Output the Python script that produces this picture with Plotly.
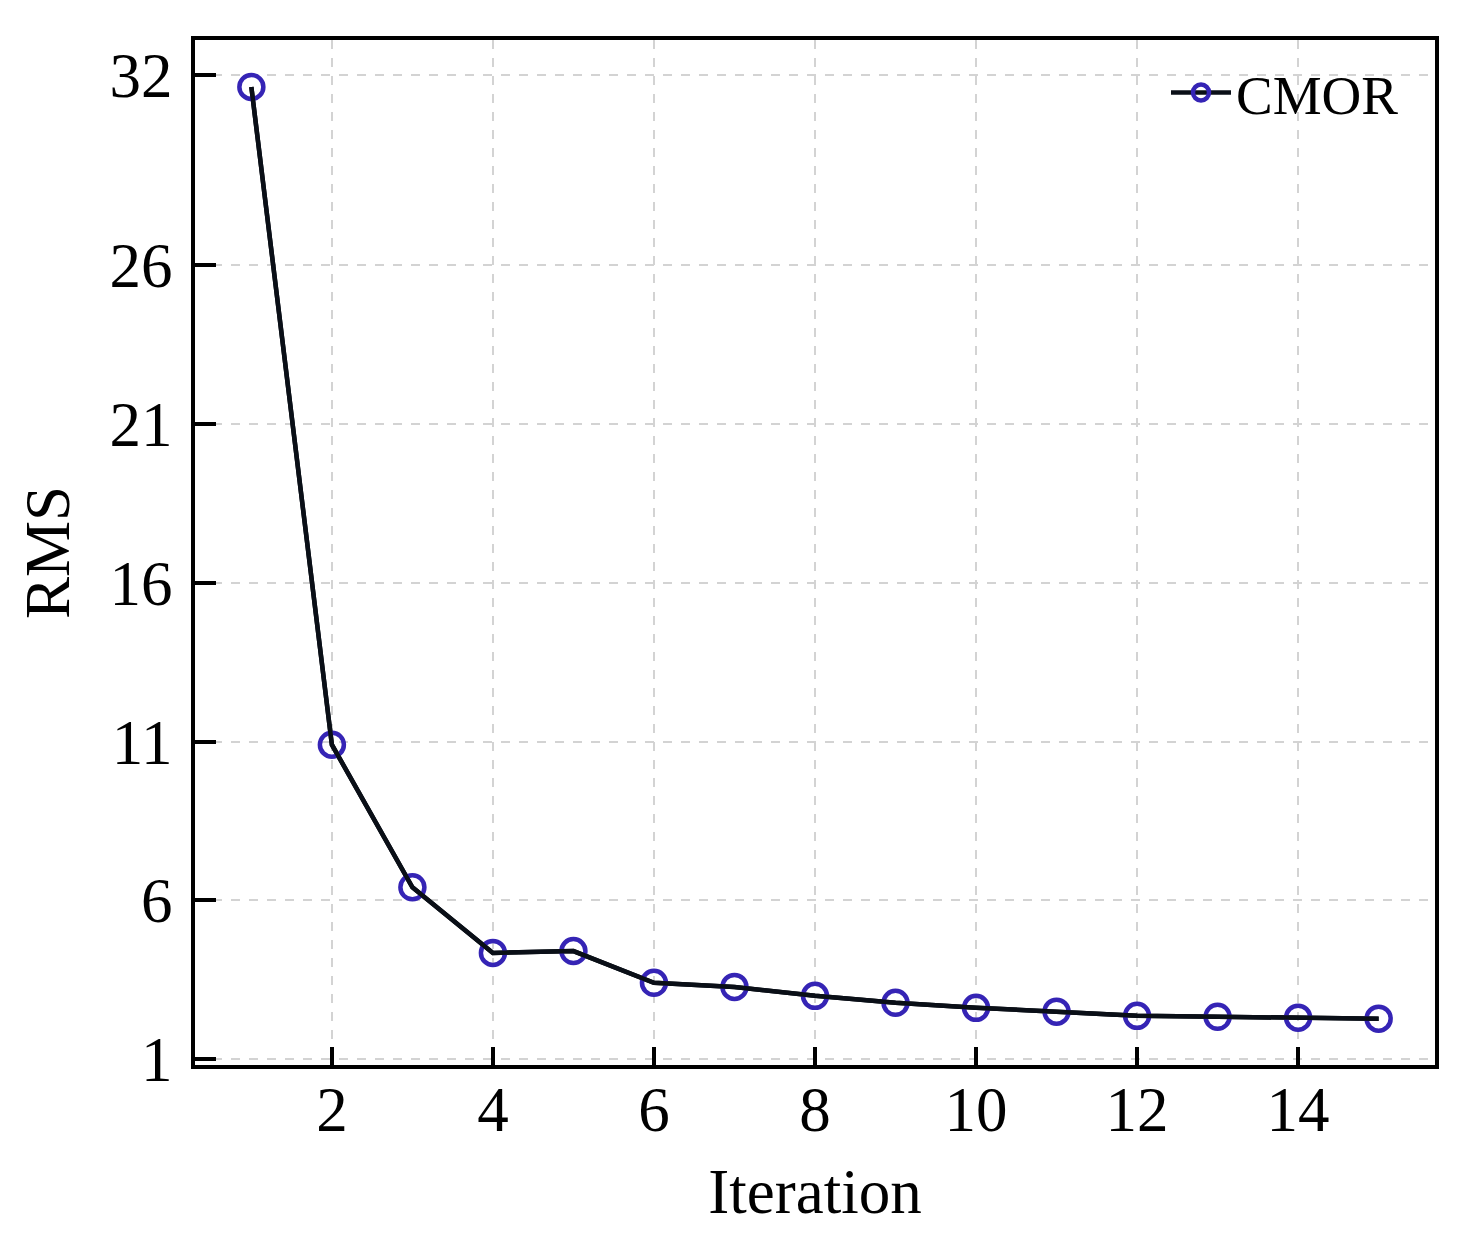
import plotly.graph_objects as go

# Convergence of the RMS misfit over the iterations
iterations = list(range(1, 16))
rms = [31.62, 10.9, 6.41, 4.34, 4.40, 3.40, 3.27, 2.99, 2.77, 2.61, 2.49, 2.36, 2.33, 2.30, 2.27]

y_ticks = [1, 6, 11, 16, 21, 26, 32]
x_ticks = [2, 4, 6, 8, 10, 12, 14]

FONT = 'Liberation Serif, Times New Roman, serif'
MARKER_COLOR = '#3524b5'
LINE_COLOR = '#0a0f17'

fig = go.Figure()

fig.add_trace(go.Scatter(
    x=iterations,
    y=rms,
    mode='lines+markers',
    name='CMOR',
    line=dict(color=LINE_COLOR, width=4.5),
    marker=dict(symbol='circle', size=24, color='rgba(0,0,0,0)', line=dict(width=4.5, color=MARKER_COLOR)),
))
# line drawn again on top so it runs over the open markers
fig.add_trace(go.Scatter(
    x=iterations,
    y=rms,
    mode='lines',
    showlegend=False,
    hoverinfo='skip',
    line=dict(color=LINE_COLOR, width=4.5),
))

axis_common = dict(
    showline=True,
    linecolor='black',
    linewidth=4,
    mirror=True,
    showgrid=True,
    gridcolor='#d3d3d3',
    griddash='dash',
    gridwidth=1.5,
    zeroline=False,
    ticks='inside',
    tickcolor='black',
    tickfont=dict(family=FONT, size=63, color='black'),
    title_font=dict(family=FONT, size=63, color='black'),
)

fig.update_xaxes(
    range=[0.3, 15.7],
    tickvals=x_ticks,
    ticktext=[str(v) for v in x_ticks],
    ticklen=18,
    tickwidth=3.5,
    title_text='Iteration',
    title_standoff=26,
    ticklabelstandoff=-14,
    **axis_common
)
fig.update_yaxes(
    range=[0.81, 33.1],
    tickvals=y_ticks,
    ticktext=[str(v) for v in y_ticks],
    ticklen=21,
    tickwidth=4,
    title_text='RMS',
    title_standoff=20,
    ticklabelstandoff=6,
    **axis_common
)

fig.update_layout(
    width=1472,
    height=1244,
    margin=dict(l=187, r=45, t=32, b=187),
    paper_bgcolor='white',
    plot_bgcolor='white',
    font=dict(family=FONT, color='black'),
    legend=dict(
        x=0.975,
        y=0.99,
        xanchor='right',
        yanchor='top',
        bgcolor='rgba(255,255,255,0)',
        font=dict(family=FONT, size=55, color='black'),
        itemwidth=60,
    ),
)

fig.write_html("out.html")
